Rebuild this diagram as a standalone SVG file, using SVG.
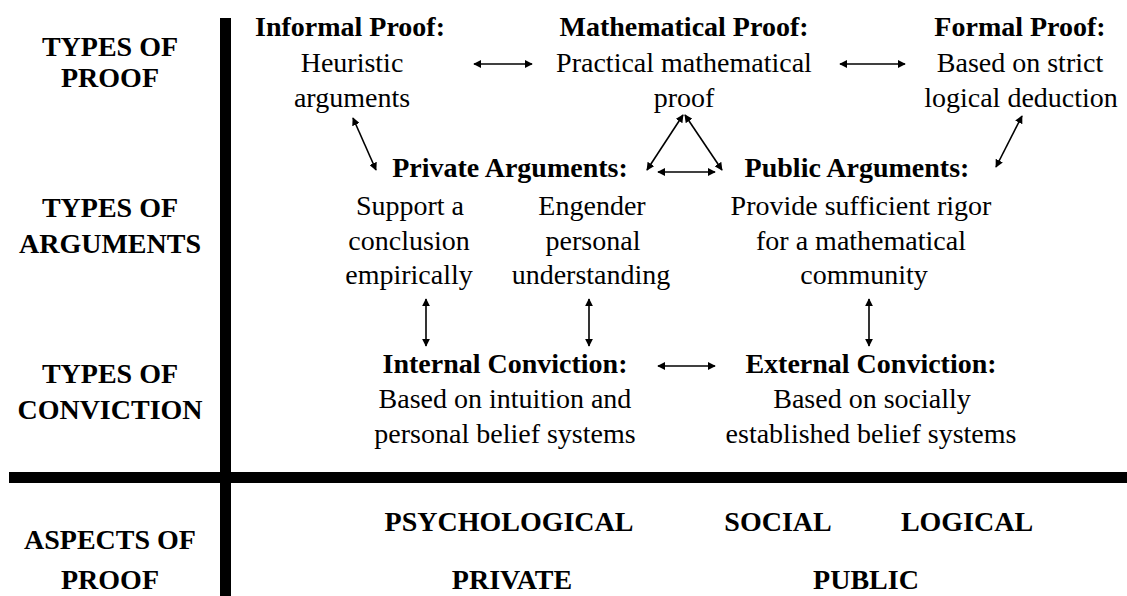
<svg xmlns="http://www.w3.org/2000/svg" width="1127" height="596" viewBox="0 0 1127 596">
<style>
text{font-family:'Liberation Serif','DejaVu Serif','Times New Roman',serif;font-size:28px;fill:#000;text-anchor:middle}
.b{font-weight:bold}
.c{stroke:#000;stroke-width:1.6;fill:none;marker-start:url(#ah);marker-end:url(#ah)}
</style>
<defs>
<marker id="ah" viewBox="0 0 10 10" refX="9" refY="5" markerWidth="5" markerHeight="5" orient="auto-start-reverse" markerUnits="strokeWidth">
<path d="M0,0 L10,5 L0,10 z" fill="#000"/>
</marker>
</defs>
<rect x="0" y="0" width="1127" height="596" fill="#fff"/>
<g id="grid">
<rect x="220" y="18" width="11" height="578" fill="#000"/>
<rect x="9" y="472" width="1118" height="11" fill="#000"/>
</g>
<g font-family="Liberation Serif, DejaVu Serif, serif">
<g id="row-labels">
<text class="b" x="110" y="56">TYPES OF</text>
<text class="b" x="110" y="87">PROOF</text>
<text class="b" x="110" y="217">TYPES OF</text>
<text class="b" x="110" y="253">ARGUMENTS</text>
<text class="b" x="110" y="383">TYPES OF</text>
<text class="b" x="110" y="419">CONVICTION</text>
<text class="b" x="110" y="549">ASPECTS OF</text>
<text class="b" x="110" y="589">PROOF</text>
</g>
<g id="informal-proof">
<text class="b" x="350" y="36">Informal Proof:</text>
<text x="352" y="72">Heuristic</text>
<text x="352" y="107">arguments</text>
</g>
<g id="mathematical-proof">
<text class="b" x="684" y="36">Mathematical Proof:</text>
<text x="684" y="72">Practical mathematical</text>
<text x="684" y="107">proof</text>
</g>
<g id="formal-proof">
<text class="b" x="1020" y="36">Formal Proof:</text>
<text x="1020" y="72">Based on strict</text>
<text x="1021" y="107">logical deduction</text>
</g>
<g id="private-arguments">
<text class="b" x="510" y="177">Private Arguments:</text>
<text x="410" y="215">Support a</text>
<text x="409" y="250">conclusion</text>
<text x="409" y="284">empirically</text>
<text x="592" y="215">Engender</text>
<text x="593" y="250">personal</text>
<text x="591" y="284">understanding</text>
</g>
<g id="public-arguments">
<text class="b" x="857" y="177">Public Arguments:</text>
<text x="861" y="215">Provide sufficient rigor</text>
<text x="861" y="250">for a mathematical</text>
<text x="864" y="284">community</text>
</g>
<g id="internal-conviction">
<text class="b" x="505" y="373">Internal Conviction:</text>
<text x="505" y="408">Based on intuition and</text>
<text x="505" y="443">personal belief systems</text>
</g>
<g id="external-conviction">
<text class="b" x="871" y="373">External Conviction:</text>
<text x="872" y="408">Based on socially</text>
<text x="871" y="443">established belief systems</text>
</g>
<g id="aspects">
<text class="b" x="509" y="531">PSYCHOLOGICAL</text>
<text class="b" x="778" y="531">SOCIAL</text>
<text class="b" x="967" y="531">LOGICAL</text>
<text class="b" x="512" y="589">PRIVATE</text>
<text class="b" x="866" y="589">PUBLIC</text>
</g>
</g>
<g id="connectors">
<line class="c" x1="474" y1="64" x2="532" y2="64"/>
<line class="c" x1="840" y1="64" x2="905" y2="64"/>
<line class="c" x1="353" y1="118" x2="376" y2="170"/>
<line class="c" x1="683" y1="115" x2="647" y2="170"/>
<line class="c" x1="685" y1="115" x2="722" y2="170"/>
<line class="c" x1="658" y1="172" x2="715" y2="172"/>
<line class="c" x1="1022" y1="116" x2="996" y2="167"/>
<line class="c" x1="426" y1="299" x2="426" y2="346"/>
<line class="c" x1="589" y1="299" x2="589" y2="346"/>
<line class="c" x1="869" y1="299" x2="869" y2="346"/>
<line class="c" x1="658" y1="366" x2="715" y2="366"/>
</g>
</svg>
